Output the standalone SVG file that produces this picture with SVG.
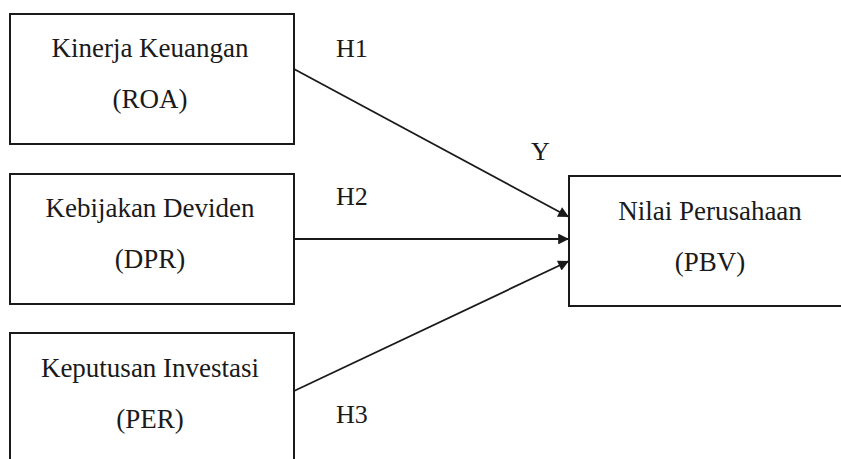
<svg xmlns="http://www.w3.org/2000/svg" width="841" height="459" viewBox="0 0 841 459">
<defs>
<style>
.box{fill:#fff;stroke:#1a1a1a;stroke-width:2}
.t{font-family:"Liberation Serif","Times New Roman",serif;font-size:27px;fill:#1a1a1a;text-anchor:middle}
.l{font-family:"Liberation Serif","Times New Roman",serif;font-size:26px;fill:#1a1a1a}
.c{stroke:#1a1a1a;stroke-width:1.8;fill:none;marker-end:url(#ah)}
</style>
<marker id="ah" viewBox="0 0 10 10" refX="10" refY="5" markerWidth="7" markerHeight="6" orient="auto" markerUnits="strokeWidth">
<path d="M0,0 L10,5 L0,10 z" fill="#1a1a1a"/>
</marker>
</defs>
<rect width="841" height="459" fill="#fff"/>
<g id="connectors">
<line class="c" x1="294" y1="69" x2="569" y2="217"/>
<line class="c" x1="294" y1="239" x2="569" y2="239"/>
<line class="c" x1="294" y1="391" x2="569" y2="261"/>
</g>
<g id="labels">
<text class="l" x="336" y="57">H1</text>
<text class="l" x="336" y="205">H2</text>
<text class="l" x="336" y="423">H3</text>
<text class="l" x="531" y="160">Y</text>
</g>
<g id="node-roa">
<rect class="box" x="10" y="14" width="284" height="130"/>
<text class="t" x="150" y="57">Kinerja Keuangan</text>
<text class="t" x="150" y="108">(ROA)</text>
</g>
<g id="node-dpr">
<rect class="box" x="10" y="174" width="284" height="130"/>
<text class="t" x="150" y="217">Kebijakan Deviden</text>
<text class="t" x="150" y="268">(DPR)</text>
</g>
<g id="node-per">
<rect class="box" x="10" y="333" width="284" height="140"/>
<text class="t" x="150" y="377">Keputusan Investasi</text>
<text class="t" x="150" y="428">(PER)</text>
</g>
<g id="node-pbv">
<rect class="box" x="569" y="176" width="282" height="130"/>
<text class="t" x="710" y="220">Nilai Perusahaan</text>
<text class="t" x="710" y="271">(PBV)</text>
</g>
</svg>
